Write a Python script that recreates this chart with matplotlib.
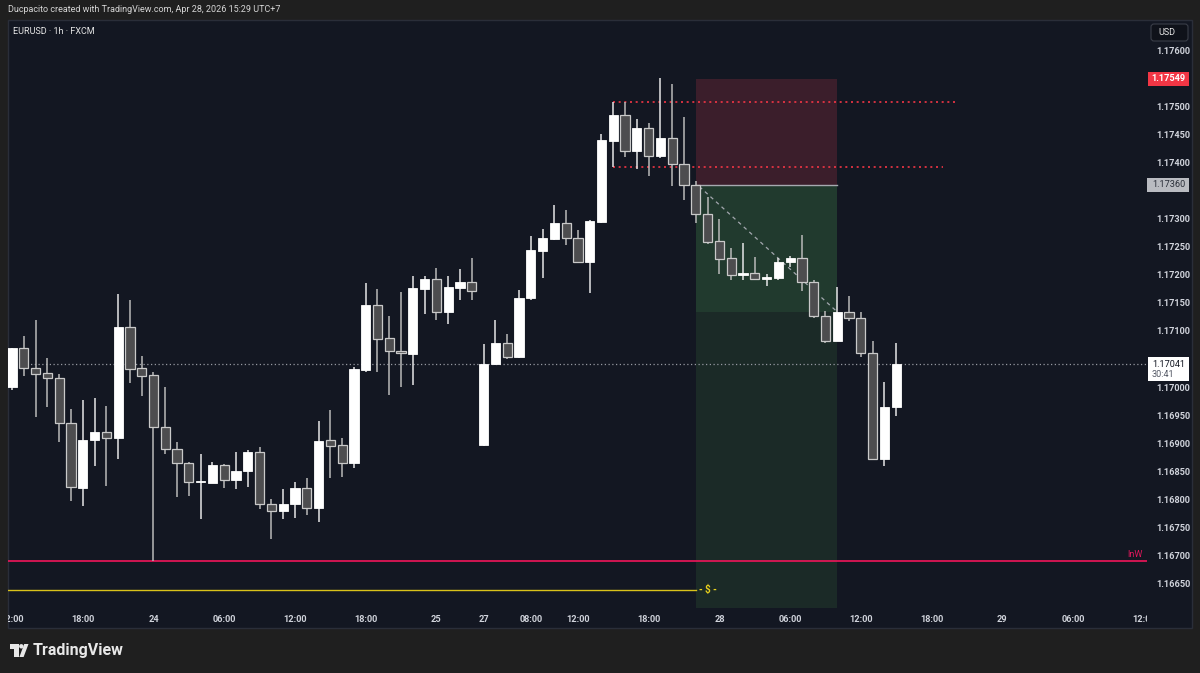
import matplotlib
matplotlib.use("Agg")
import matplotlib.pyplot as plt
from matplotlib.patches import Rectangle, FancyBboxPatch, Polygon, Circle

# ---------------- data (EURUSD 1h, FXCM) ----------------
opens = [1.17000, 1.17070, 1.17035, 1.17025, 1.17016, 1.16936, 1.16821, 1.16906, 1.16920, 1.16910,
         1.17108, 1.17034, 1.17021, 1.16929, 1.16890, 1.16865, 1.16831, 1.16830, 1.16862, 1.16834,
         1.16851, 1.16885, 1.16792, 1.16780, 1.16792, 1.16820, 1.16785, 1.16906, 1.16898, 1.16865,
         1.17031, 1.17146, 1.17087, 1.17065, 1.17059, 1.17175, 1.17192, 1.17134, 1.17176, 1.17187,
         1.16897, 1.17041, 1.17079, 1.17053, 1.17158, 1.17242, 1.17264, 1.17293, 1.17266, 1.17223,
         1.17294, 1.17438, 1.17484, 1.17421, 1.17461, 1.17411, 1.17443, 1.17398, 1.17360, 1.17308,
         1.17260, 1.17230, 1.17200, 1.17203, 1.17192, 1.17195, 1.17222, 1.17230, 1.17188, 1.17127,
         1.17083, 1.17133, 1.17124, 1.17060, 1.16872, 1.16965]
highs = [1.17070, 1.17091, 1.17120, 1.17052, 1.17023, 1.16961, 1.16977, 1.16981, 1.16967, 1.17166,
         1.17155, 1.17056, 1.17027, 1.17001, 1.16902, 1.16867, 1.16881, 1.16867, 1.16863, 1.16885,
         1.16888, 1.16893, 1.16801, 1.16818, 1.16831, 1.16838, 1.16940, 1.16959, 1.16909, 1.17036,
         1.17185, 1.17175, 1.17127, 1.17169, 1.17197, 1.17197, 1.17212, 1.17198, 1.17210, 1.17230,
         1.17077, 1.17120, 1.17095, 1.17173, 1.17269, 1.17282, 1.17324, 1.17315, 1.17280, 1.17298,
         1.17450, 1.17508, 1.17508, 1.17478, 1.17471, 1.17550, 1.17540, 1.17481, 1.17367, 1.17338,
         1.17299, 1.17247, 1.17257, 1.17231, 1.17201, 1.17230, 1.17233, 1.17270, 1.17190, 1.17136,
         1.17179, 1.17163, 1.17133, 1.17082, 1.17009, 1.17078]
lows = [1.16995, 1.17020, 1.16947, 1.16965, 1.16902, 1.16798, 1.16789, 1.16860, 1.16824, 1.16873,
        1.17008, 1.16984, 1.16691, 1.16882, 1.16804, 1.16807, 1.16765, 1.16829, 1.16821, 1.16818,
        1.16822, 1.16783, 1.16730, 1.16765, 1.16767, 1.16773, 1.16761, 1.16839, 1.16841, 1.16856,
        1.17027, 1.17027, 1.16986, 1.17000, 1.17004, 1.17130, 1.17120, 1.17112, 1.17155, 1.17156,
        1.16895, 1.17040, 1.17050, 1.17052, 1.17156, 1.17195, 1.17262, 1.17253, 1.17221, 1.17167,
        1.17292, 1.17392, 1.17409, 1.17388, 1.17376, 1.17408, 1.17358, 1.17333, 1.17293, 1.17255,
        1.17201, 1.17190, 1.17191, 1.17191, 1.17180, 1.17191, 1.17214, 1.17171, 1.17124, 1.17078,
        1.17082, 1.17117, 1.17054, 1.16870, 1.16860, 1.16949]
closes = [1.17070, 1.17034, 1.17023, 1.17016, 1.16936, 1.16822, 1.16906, 1.16920, 1.16910, 1.17108,
          1.17032, 1.17020, 1.16929, 1.16890, 1.16865, 1.16831, 1.16833, 1.16862, 1.16834, 1.16851,
          1.16885, 1.16792, 1.16780, 1.16792, 1.16820, 1.16785, 1.16905, 1.16895, 1.16865, 1.17032,
          1.17146, 1.17086, 1.17064, 1.17060, 1.17176, 1.17192, 1.17134, 1.17178, 1.17187, 1.17171,
          1.17041, 1.17079, 1.17053, 1.17159, 1.17244, 1.17265, 1.17293, 1.17265, 1.17223, 1.17296,
          1.17440, 1.17484, 1.17421, 1.17461, 1.17411, 1.17444, 1.17398, 1.17360, 1.17308, 1.17259,
          1.17229, 1.17200, 1.17203, 1.17192, 1.17196, 1.17222, 1.17230, 1.17188, 1.17127, 1.17083,
          1.17133, 1.17124, 1.17060, 1.16872, 1.16965, 1.17041]

time_tick_idx = [0, 6, 12, 18, 24, 30, 36, 40, 44, 48, 54, 60, 66, 72, 78, 84, 90, 96]
time_tick_labels = ["12:00", "18:00", "24", "06:00", "12:00", "18:00", "25", "27", "08:00",
                    "12:00", "18:00", "28", "06:00", "12:00", "18:00", "29", "06:00", "12:00"]

# price-scale labels that are visible (others are hidden under the axis tags)
price_ticks = [1.16650, 1.16700, 1.16750, 1.16800, 1.16850, 1.16900, 1.16950, 1.17000,
               1.17100, 1.17150, 1.17200, 1.17250, 1.17300, 1.17400, 1.17450, 1.17500,
               1.17600]

last_price = 1.17041
countdown = "30:41"
stop_price = 1.17549
entry_price = 1.17360
target_price = 1.17134
pos_start, pos_end = 58, 70
res_levels = [1.17508, 1.17392]
res_start = 51
res_ends = [80, 79]
inw_level = 1.16691
dollar_level = 1.16639
diag_x = [58.3, 70.0]
diag_y = [1.17357, 1.17134]

# ---------------- figure ----------------
W, H = 1200, 673
fig = plt.figure(figsize=(W / 100, H / 100), dpi=100, facecolor="#1f1f1f")
FONT = ["Roboto", "DejaVu Sans"]

def fr(x0, y0, x1, y1):
    return [x0 / W, 1 - y1 / H, (x1 - x0) / W, (y1 - y0) / H]

# background layer (pixel coordinates)
bg = fig.add_axes([0, 0, 1, 1], zorder=0)
bg.set_xlim(0, W); bg.set_ylim(H, 0); bg.axis("off")
bg.add_patch(Rectangle((8, 20), 1184, 608, facecolor="#131722", edgecolor="#2a2e39", lw=1))

# main chart axes
ax = fig.add_axes(fr(8, 20, 1147, 608), zorder=2)
ax.set_facecolor("none")
ax.set_xlim(-0.34, 96.27)
ax.set_ylim(1.166071, 1.176534)
for s in ax.spines.values():
    s.set_visible(False)
ax.set_xticks([])
ax.yaxis.tick_right()
ax.set_yticks(price_ticks)
ax.set_yticklabels([f"{p:.5f}" for p in price_ticks], fontsize=6.6, color="#d1d4dc",
                   family=FONT, fontweight="bold")
ax.tick_params(axis="y", length=0, pad=7)

# position tool zones
ax.add_patch(Rectangle((pos_start, entry_price), pos_end - pos_start, stop_price - entry_price,
                       facecolor="#3b1e2b", edgecolor="none", zorder=1))
ax.add_patch(Rectangle((pos_start, target_price), pos_end - pos_start, entry_price - target_price,
                       facecolor="#213a2e", edgecolor="none", zorder=1))
ax.add_patch(Rectangle((pos_start, 1.16500), pos_end - pos_start, target_price - 1.16500,
                       facecolor="#1b2a27", edgecolor="none", zorder=1))
ax.plot([pos_start, pos_end], [entry_price, entry_price], color="#a6a9b0", lw=1.0, zorder=2)

# horizontal levels
for lvl, xe in zip(res_levels, res_ends):
    ax.plot([res_start, xe], [lvl, lvl], color="#f23645", lw=1.2, ls=(0, (1.2, 2.2)), zorder=2)
ax.axhline(last_price, color="#9598a1", lw=0.9, ls=(0, (1, 2)), zorder=2)
ax.axhline(inw_level, color="#f0155a", lw=1.2, zorder=2)
ax.plot([-0.34, pos_start], [dollar_level, dollar_level], color="#d9c21a", lw=1.0, zorder=2)
ax.text(pos_start + 1.0, dollar_level, "- $ -", color="#e8d01c", fontsize=7, family=FONT,
        ha="center", va="center", fontweight="bold", zorder=3)
ax.text(95.9, inw_level + 0.00004, "InW", color="#e0185c", fontsize=6.5, family=FONT,
        ha="right", va="bottom", zorder=3)

# diagonal dashed trend
ax.plot(diag_x, diag_y, color="#a3a7ae", lw=0.9, ls=(0, (3, 3)), zorder=3)

# candles
bw = 0.78
for i, (o, h, l, c) in enumerate(zip(opens, highs, lows, closes)):
    bull = c >= o
    wick_col = "#e6e6e6" if bull else "#b9b9b9"
    ax.vlines(i, l, h, color=wick_col, lw=1.1, zorder=4)
    lo, hi = min(o, c), max(o, c)
    if hi - lo < 0.00003:
        mid = (hi + lo) / 2
        lo, hi = mid - 0.000015, mid + 0.000015
    if bull:
        ax.add_patch(Rectangle((i - bw / 2, lo), bw, hi - lo, facecolor="#ffffff",
                               edgecolor="#ffffff", lw=0.6, zorder=5))
    else:
        ax.add_patch(Rectangle((i - bw / 2, lo), bw, hi - lo, facecolor="#4d4d4f",
                               edgecolor="#c9c9c9", lw=0.9, zorder=5))

# time axis row
tax = fig.add_axes(fr(8, 608, 1147, 628), zorder=2)
tax.set_facecolor("none")
tax.set_xlim(ax.get_xlim()); tax.set_ylim(0, 1); tax.axis("off")
for xi, lab in zip(time_tick_idx, time_tick_labels):
    tax.text(xi, 0.45, lab, color="#d1d4dc", fontsize=6.6, family=FONT, fontweight="bold",
             ha="center", va="center", clip_on=True)

# top overlay (pixel coordinates)
top = fig.add_axes([0, 0, 1, 1], zorder=10)
top.set_facecolor("none")
top.set_xlim(0, W); top.set_ylim(H, 0); top.axis("off")

def ypix(p):
    y0, y1 = ax.get_ylim()
    return 20 + (y1 - p) / (y1 - y0) * 588

top.text(8, 10, "Ducpacito created with TradingView.com, Apr 28, 2026 15:29 UTC+7",
         color="#d6d6d6", fontsize=6.5, family=FONT, ha="left", va="center")
top.text(13, 31, "EURUSD · 1h · FXCM", color="#e6e6e6", fontsize=6.5, family=FONT,
         ha="left", va="center")

# USD box
top.add_patch(FancyBboxPatch((1151, 24), 37, 17, boxstyle="round,pad=0,rounding_size=3",
                             facecolor="#0f121a", edgecolor="#3a3e48", lw=0.8))
top.text(1158, 32.5, "USD", color="#e6e6e6", fontsize=6.5, family=FONT, ha="left", va="center")

# price labels on the axis
ys = ypix(stop_price)
top.add_patch(Rectangle((1148, ys - 7), 41, 14, facecolor="#f23645", edgecolor="none"))
top.text(1168.5, ys, f"{stop_price:.5f}", color="#ffffff", fontsize=6.6, family=FONT,
         fontweight="bold", ha="center", va="center")
ye = ypix(entry_price)
top.add_patch(Rectangle((1147, ye - 7), 42, 14, facecolor="#b9bbc1", edgecolor="none"))
top.text(1168.5, ye, f"{entry_price:.5f}", color="#2a2e39", fontsize=6.6, family=FONT,
         ha="center", va="center")
yl = ypix(last_price)
top.add_patch(Rectangle((1148, yl - 7), 41, 24, facecolor="#ffffff", edgecolor="none"))
top.text(1168.5, yl + 0.5, f"{last_price:.5f}", color="#131722", fontsize=6.6, family=FONT,
         ha="center", va="center")
top.text(1152, yl + 10.5, countdown, color="#555a66", fontsize=6.6, family=FONT,
         ha="left", va="center")

# TradingView logo + wordmark
top.add_patch(Polygon([(10, 644), (18.5, 644), (18.5, 657), (14.2, 657), (14.2, 648.6), (10, 648.6)],
                      closed=True, facecolor="#e8e8e8", edgecolor="none"))
top.add_patch(Circle((21.3, 646.3), 2.2, facecolor="#e8e8e8", edgecolor="none"))
top.add_patch(Polygon([(24.2, 644), (28.5, 644), (23.6, 657), (19.4, 657)],
                      closed=True, facecolor="#e8e8e8", edgecolor="none"))
top.text(33, 651, "TradingView", color="#e8e8e8", fontsize=11.5, family=FONT,
         fontweight="bold", ha="left", va="center")

fig.savefig("out.png", dpi=100, facecolor=fig.get_facecolor())
